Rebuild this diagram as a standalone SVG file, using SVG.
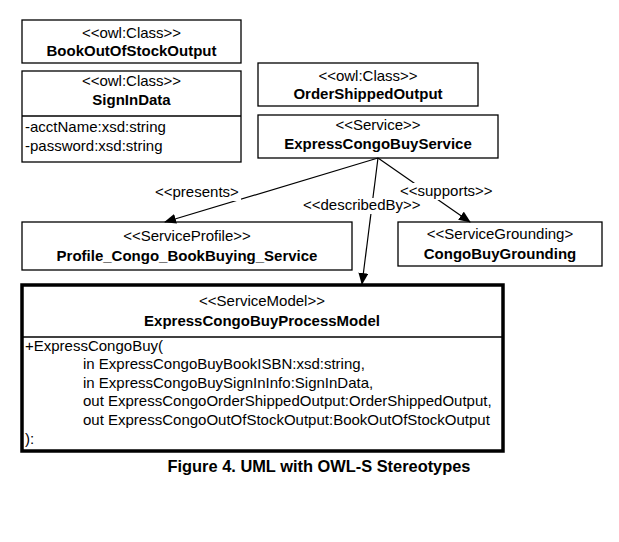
<svg xmlns="http://www.w3.org/2000/svg" width="619" height="542" viewBox="0 0 619 542">
<style>
.box{fill:#fff;stroke:#000;stroke-width:1.3}
.thick{fill:#fff;stroke:#000;stroke-width:3.5}
text{font-family:"Liberation Sans",Arial,sans-serif;font-size:15px;fill:#000}
.c{text-anchor:middle}
.b{font-weight:bold}
.conn{stroke:#000;stroke-width:1.2;fill:none}
.lbg{fill:#fff;stroke:none}
</style>
<defs>
<marker id="ah" markerWidth="12" markerHeight="10" refX="11" refY="5" orient="auto" markerUnits="userSpaceOnUse">
<path d="M0,0 L12,5 L0,10 Z" fill="#000"/>
</marker>
</defs>
<rect width="619" height="542" fill="#fff"/>
<g id="BookOutOfStockOutput">
<rect class="box" x="22" y="20" width="219" height="43"/>
<text class="c" x="131.5" y="37.5">&lt;&lt;owl:Class&gt;&gt;</text>
<text class="c b" x="131.5" y="56">BookOutOfStockOutput</text>
</g>
<g id="SignInData">
<rect class="box" x="22" y="71" width="219" height="91"/>
<line class="box" x1="22" y1="116" x2="241" y2="116"/>
<text class="c" x="131.5" y="86">&lt;&lt;owl:Class&gt;&gt;</text>
<text class="c b" x="131.5" y="105">SignInData</text>
<text x="25" y="132">-acctName:xsd:string</text>
<text x="25" y="151">-password:xsd:string</text>
</g>
<g id="OrderShippedOutput">
<rect class="box" x="258" y="63" width="220" height="43"/>
<text class="c" x="368" y="81">&lt;&lt;owl:Class&gt;&gt;</text>
<text class="c b" x="368" y="99">OrderShippedOutput</text>
</g>
<g id="ExpressCongoBuyService">
<rect class="box" x="258" y="115" width="240" height="43"/>
<text class="c" x="378" y="130">&lt;&lt;Service&gt;&gt;</text>
<text class="c b" x="378" y="149">ExpressCongoBuyService</text>
</g>
<g id="Profile">
<rect class="box" x="22" y="222" width="330" height="48"/>
<text class="c" x="187" y="241">&lt;&lt;ServiceProfile&gt;&gt;</text>
<text class="c b" x="187" y="261">Profile_Congo_BookBuying_Service</text>
</g>
<g id="Grounding">
<rect class="box" x="398" y="222" width="204" height="44"/>
<text class="c" x="500" y="239">&lt;&lt;ServiceGrounding&gt;</text>
<text class="c b" x="500" y="259">CongoBuyGrounding</text>
</g>
<g id="ProcessModel">
<rect class="thick" x="22" y="285" width="481" height="166"/>
<line class="box" x1="22" y1="337" x2="503" y2="337"/>
<text class="c" x="262" y="306">&lt;&lt;ServiceModel&gt;&gt;</text>
<text class="c b" x="262" y="326">ExpressCongoBuyProcessModel</text>
<text x="25" y="351">+ExpressCongoBuy(</text>
<text x="83" y="369">in ExpressCongoBuyBookISBN:xsd:string,</text>
<text x="83" y="388">in ExpressCongoBuySignInInfo:SignInData,</text>
<text x="83" y="406">out ExpressCongoOrderShippedOutput:OrderShippedOutput,</text>
<text x="83" y="425">out ExpressCongoOutOfStockOutput:BookOutOfStockOutput</text>
<text x="25" y="444">):</text>
</g>
<g id="connectors">
<line class="conn" x1="378" y1="158" x2="165" y2="222" marker-end="url(#ah)"/>
<line class="conn" x1="378" y1="158" x2="362" y2="284" marker-end="url(#ah)"/>
<line class="conn" x1="378" y1="158" x2="470" y2="222" marker-end="url(#ah)"/>
<rect class="lbg" x="153" y="184" width="88" height="17"/>
<rect class="lbg" x="301" y="198" width="122" height="16"/>
<rect class="lbg" x="398" y="183" width="98" height="17"/>
<text x="155" y="197">&lt;&lt;presents&gt;</text>
<text x="303" y="210">&lt;&lt;describedBy&gt;&gt;</text>
<text x="400" y="196">&lt;&lt;supports&gt;&gt;</text>
</g>
<text class="c b" x="319" y="472" style="font-size:16.4px">Figure 4. UML with OWL-S Stereotypes</text>
</svg>
